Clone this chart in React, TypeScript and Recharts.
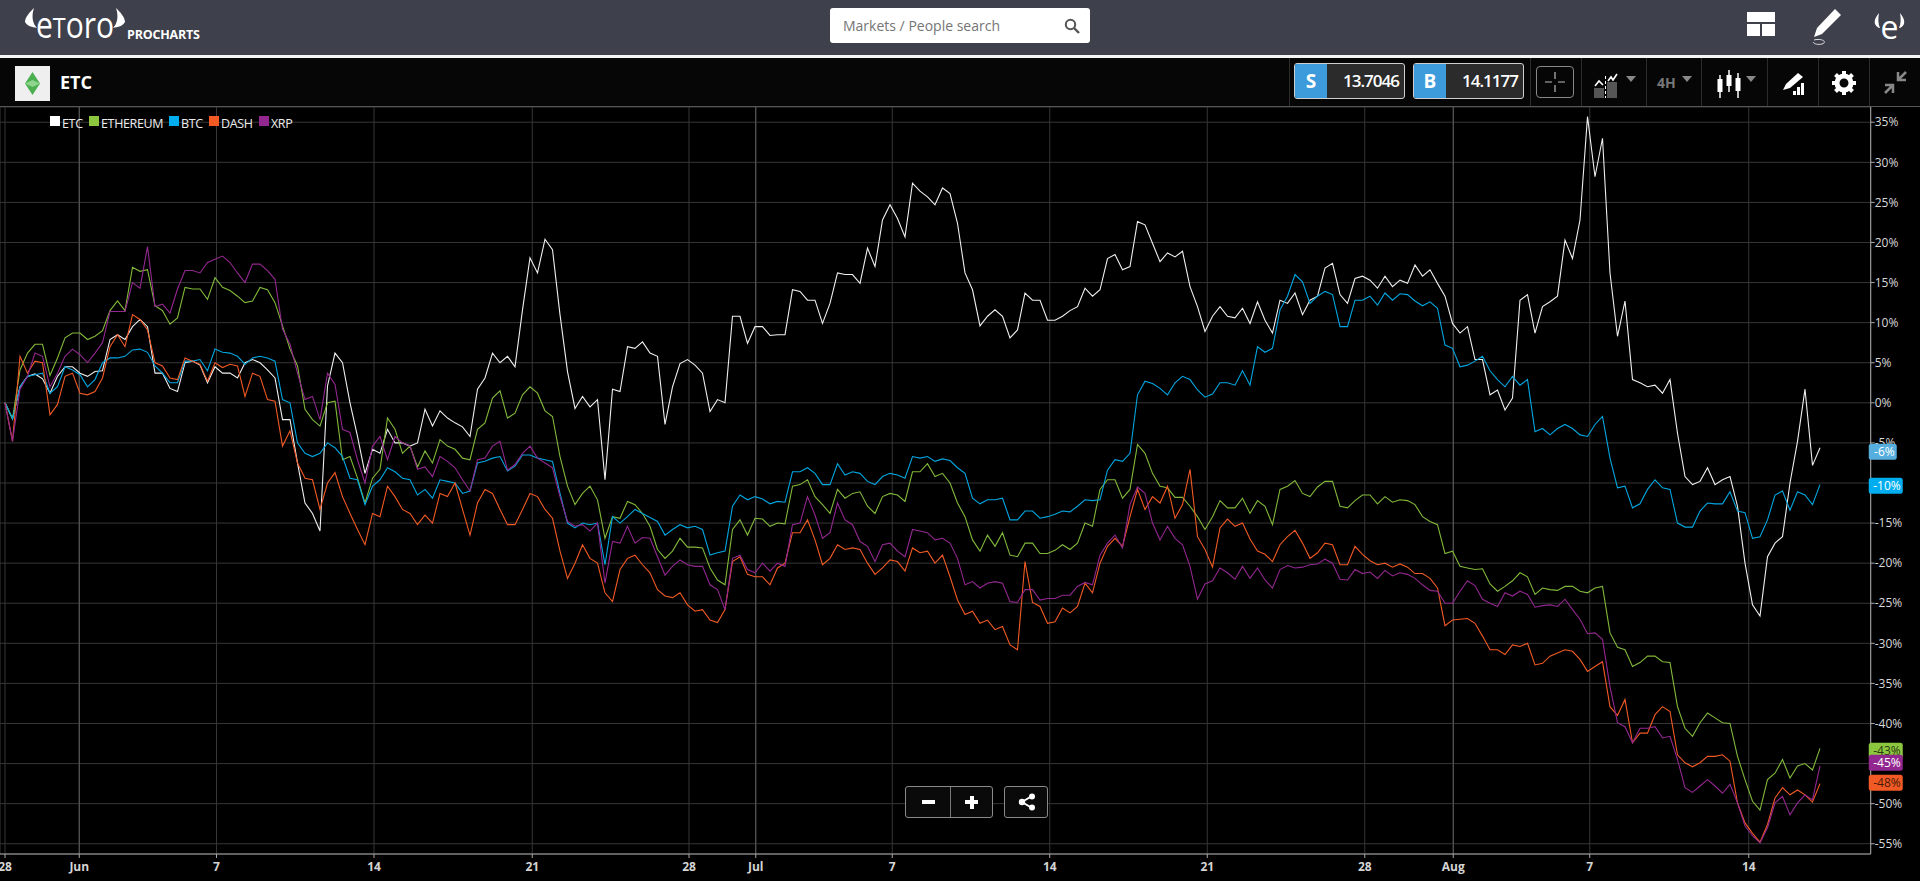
import React from "react";
import { LineChart, Line, XAxis, YAxis, CartesianGrid, ReferenceLine, ReferenceDot } from "recharts";

const etc = [
  0,-2,2,3.3,3.6,3,1.2,3.3,4.5,4.5,
  3.7,3.3,3.9,4,7.9,8.5,7.9,9.5,10.4,9.5,
  3.7,3.7,1.8,1.4,5,5.2,4.7,2.5,4.5,3.7,
  3.7,3.1,5,5.4,5,4.1,3.1,-2.1,-2.1,-7.5,
  -12.5,-13.8,-16,2.1,6.2,5,0,-4.2,-8.8,-5.8,
  -6.3,-3.3,-5,-5,-5.4,-5,-0.8,-2.9,-1,-1.9,
  -2.5,-3,-4.2,1.7,3.1,6.2,5,5.8,4.5,11.6,
  18.1,16.2,20.4,19.1,11,3.9,-0.7,0.8,-0.5,0.4,
  -9.6,1.7,1.4,7,6.8,7.6,6.2,5.8,-2.7,2,
  4.9,5.4,4.7,3.7,-1.1,0.4,0,10.8,10.8,7.4,
  9.5,9.5,8.4,8.5,8.5,14.1,13.9,12.8,12.8,9.9,
  12.4,16.2,16,16,14.9,19.3,17,22.8,24.7,23,
  20.7,27.4,26.4,25.7,24.7,26.8,26.1,22.4,16.2,14.1,
  9.6,10.8,11.6,10.8,8.1,9.1,13.7,12.8,12.8,10.3,
  10.3,10.8,11.5,12,14.3,13.3,14.1,18,18.5,16.6,
  17,22.6,22.2,19.9,17.6,18.7,18.2,18.9,14.5,12,
  8.9,10.8,12,10.8,10.6,11.8,9.9,12.6,10.3,8.7,
  12.8,12.4,13.7,11,12.8,13.3,16.8,17.4,13.5,12.4,
  15.5,15.8,15.3,14.3,15.8,14.5,15.3,14.9,17.2,15.8,
  16.6,14.9,13.3,9.9,8.7,9.5,5.4,5.4,1,1.6,
  -0.9,0.6,12.8,13.5,8.7,12,12.6,13.3,20.3,18,
  22.8,35.7,28.2,33,16.2,8.3,12.7,2.9,2.5,2,
  2.2,1.2,2.9,-3.8,-9.2,-10.2,-9.8,-8.1,-10.2,-9.6,
  -9.2,-12.9,-20,-25.2,-26.6,-19.2,-17.5,-16.7,-10,-4.8,
  1.7,-7.8,-5.6,
];

const ethereum = [
  0,-2,4.1,6.2,7.3,7.3,3.4,5.6,8.1,8.7,
  8.7,7.9,8.3,9,11.5,12.7,11.5,16.9,16.4,16.6,
  12.1,11.5,9.8,10.6,14.4,14.2,14.2,12.9,15.6,14.4,
  14,13.3,12.5,12.7,14.4,14.1,12.5,9.6,6.7,4.6,
  -0.8,-2.1,-2.9,0,0.2,-7.1,-6.7,-9.4,-12.5,-9.4,
  -8.3,-1.9,-3.3,-6.3,-5.4,-8,-6,-7.5,-4.6,-5.4,
  -5.8,-6.9,-7.1,-3.3,-2.5,0.6,1.5,-1.9,-1.3,1,
  2,1.2,-1,-1.7,-6.7,-10.4,-12.7,-11.3,-10.4,-12.1,
  -16.9,-14.2,-14.4,-12.3,-12.7,-13.8,-15.4,-18.3,-19.4,-18.5,
  -16.9,-18,-18,-18.1,-20.6,-22.1,-22.7,-15.8,-14.6,-16.5,
  -14.4,-14.5,-15.4,-15,-15.1,-10.4,-10.2,-9.6,-11.7,-12.7,
  -13.8,-10.8,-11.9,-11.3,-11.1,-12.9,-13.8,-11.7,-11.3,-11.5,
  -12.3,-8.6,-8.6,-7.6,-9.2,-8.8,-10,-12.5,-14.2,-17.1,
  -18.5,-16.5,-17.9,-16.2,-19,-19.2,-17.5,-17.5,-18.8,-18.8,
  -18.4,-17.7,-18.3,-17.5,-15,-15.4,-10.8,-9.6,-9.6,-11.9,
  -10.8,-5.2,-6.3,-8.8,-10.4,-10.6,-11.8,-11.8,-12.9,-14.2,
  -15.8,-14.2,-12.2,-13.1,-13.1,-11.9,-13.8,-12.2,-12.9,-15.2,
  -10.8,-10.4,-9.7,-11.3,-11.7,-10.5,-9.8,-9.8,-12.9,-13.1,
  -12.2,-11.5,-11.5,-12.6,-11.7,-12.4,-12.1,-12.2,-12.7,-14.2,
  -14.8,-15.2,-18.8,-18.5,-20.4,-20.6,-20.8,-20.7,-22.6,-23.5,
  -22.9,-22.2,-21.2,-21.7,-23.9,-23.1,-23.3,-23.4,-22.9,-22.9,
  -23.5,-23.7,-23.1,-22.9,-28.7,-30.5,-30.8,-32.9,-32.4,-31.6,
  -31.6,-32.3,-32.4,-37.9,-40.6,-41.6,-39.9,-38.7,-39.3,-39.9,
  -40,-44.1,-47,-49.7,-50.8,-47,-46.2,-44.5,-46.8,-45.3,
  -45,-45.8,-43.1,
];

const btc = [
  0,-2,2,3.3,3.5,3.7,1.2,2,4.5,4.1,
  3.5,2,2.9,5,5.6,5.6,5.8,6.6,6.7,6.3,
  4.6,3.7,2.5,2.5,5.2,5.2,5.4,4,6.7,6.3,
  6.2,5.8,4.8,5.6,5.8,5.6,5.2,0.4,0,-5,
  -6.3,-6.7,-6.3,-5,-5.6,-6.7,-9.4,-9.6,-12.7,-10.4,
  -9.6,-8.1,-8.6,-9.4,-9.6,-11.5,-10.8,-11.9,-9.6,-9.8,
  -10,-11.3,-11,-7.5,-7.3,-6.9,-6.7,-8.5,-7.9,-6.5,
  -6.5,-6.9,-7.1,-7.3,-11.3,-15,-15.6,-15,-15.2,-15,
  -20.2,-14.2,-15,-14.2,-13.3,-13.8,-14.3,-14.8,-16.5,-15.8,
  -15.2,-15.6,-15.4,-15.8,-19,-18.7,-18.5,-12.9,-11.5,-12.1,
  -11.7,-12,-12.6,-12.3,-12.4,-8.6,-8.6,-8.1,-8.8,-10.2,
  -10.2,-7.6,-9,-8.6,-8.8,-9.8,-10.2,-9.2,-8.8,-9,
  -9.4,-6.7,-6.9,-6.7,-7.3,-7,-7.2,-8.1,-8.8,-11.9,
  -12.6,-12.1,-12.1,-11.9,-14.6,-14.6,-13.5,-13.5,-14.4,-14.2,
  -13.9,-13.5,-13.6,-12.9,-12.1,-12.2,-12.1,-8.4,-7.1,-7.3,
  -6.3,1,2.7,2.4,1.8,1,2.5,3.3,2.9,1.6,
  0.7,1.1,2.5,2.5,2.2,4,2.2,7,6.3,6.8,
  11.6,13.3,16,15.1,12.4,13.3,13.9,13.5,9.5,9.5,
  12.8,12.8,13.3,12.2,13.7,12.8,13.6,13.5,12.7,12.1,
  12.6,11.8,7.2,6.8,4.5,4.7,5.2,5.8,4,2.9,
  2,3.3,2.2,2.9,-3.6,-3.2,-4,-3.2,-2.7,-3.2,
  -4,-4.2,-2.7,-1.7,-6.9,-10.6,-10.4,-13.1,-12.6,-10.8,
  -9.6,-10.6,-10.8,-15,-15.5,-15.5,-13.5,-12.5,-12.6,-12.6,
  -11.1,-13.5,-13.7,-16.9,-16.7,-14.6,-11.5,-11,-13.4,-11.1,
  -11.5,-12.7,-10.2,
];

const dash = [
  0,-4.8,5.8,3.7,5.2,5,-1.5,-0.2,3.3,3.7,
  1.2,1,1.4,3.1,7,8.5,7,11,10.4,9.1,
  5,4.6,3.1,2.9,5.6,5.2,4.8,2.7,5,4.4,
  4.8,4.6,0.8,3.7,3.3,0.4,0.2,-5.4,-3.5,-7.5,
  -9.4,-9.6,-13.3,-10,-8.7,-11.7,-13.8,-15.8,-17.7,-13.8,
  -14.2,-10.4,-11.7,-13.3,-13.8,-15.2,-14,-15,-11.3,-11.7,
  -10,-13.3,-16.5,-12.5,-10.8,-11.3,-13.3,-15.2,-15.2,-13.3,
  -11.3,-11.7,-13.3,-14.4,-18.5,-21.9,-20,-17.7,-19.4,-20,
  -23.7,-24.8,-20.8,-19.4,-19,-20.2,-21.2,-23.3,-24.1,-24.3,
  -23.7,-25.2,-26,-25.8,-27.1,-27.4,-25.8,-19.8,-19.2,-21.4,
  -21.7,-21.7,-22.7,-20.6,-20,-16.2,-16.2,-14.6,-17.1,-20.2,
  -19.4,-17.7,-18.3,-18.1,-18.3,-20,-21.4,-20.6,-19.6,-19.8,
  -21,-18.1,-18.7,-18.5,-20,-19,-21.7,-24.6,-26.4,-26,
  -27.5,-27.1,-28.3,-27.9,-30.2,-30.8,-19.8,-24.9,-25.4,-27.5,
  -27.3,-25.6,-26.2,-25.4,-22.5,-23.7,-20,-17.9,-16.9,-17.9,
  -14.2,-10.8,-13.3,-11.7,-12.5,-10.4,-14.4,-12.7,-8.3,-16.7,
  -18.3,-20.5,-15.6,-14.5,-15.4,-15,-17,-18.5,-18.9,-19.8,
  -17.7,-16.7,-15.9,-17.5,-19.4,-18.7,-17.5,-17.7,-20.2,-20.2,
  -17.9,-18.9,-19.7,-20.2,-20,-20.5,-20.1,-20.5,-21.3,-21.3,
  -21.9,-23.1,-27.8,-27.1,-27,-26.9,-27.5,-29.1,-30.8,-30.8,
  -31.4,-30.2,-30.4,-30,-32.7,-32.5,-31.6,-31.2,-30.8,-31,
  -32,-33.5,-32.9,-32.3,-37.9,-39,-37,-42.4,-41.2,-41.2,
  -38.9,-37.9,-38.5,-43.9,-44.9,-45.4,-44.9,-44.1,-44.1,-43.9,
  -44.7,-49.9,-52.4,-53.7,-54.8,-52.6,-49.3,-48,-48.9,-48.3,
  -48.9,-49.8,-47.5,
];

const xrp = [
  0,-4.8,1.7,3.3,6.2,5.8,2,3.7,5.8,6.7,
  6,5,6.2,7.5,11.4,11.4,11.4,15,14.3,19.5,
  12,12.3,11.2,14.2,16.5,16.5,16.2,17.5,17.9,18.3,
  17.5,16.2,15,17.3,17.3,16.5,15.4,9.2,7.3,3.7,
  0.4,0.8,-2.1,3.7,2.3,-3.3,-3.7,-7.1,-10,-5.4,
  -4.2,-7.1,-4.2,-5,-5.4,-8.3,-8,-9.2,-6.7,-7.3,
  -8.1,-9.6,-11,-7.1,-6.9,-5.4,-4.8,-8.4,-7.7,-6.3,
  -5.4,-6.9,-7.5,-8.1,-11.7,-14.8,-15.4,-15.2,-16,-15,
  -22.5,-17.3,-17.5,-15.4,-17.5,-16.8,-16.9,-19.2,-21.5,-20.4,
  -19.6,-20.2,-20.4,-20.4,-22.7,-23.3,-25.8,-19.4,-19,-20.8,
  -21.2,-20,-21,-20,-20.4,-15.2,-15,-11.7,-14,-16.9,
  -16.2,-12.5,-14.6,-15.2,-17.3,-17.9,-19.8,-17.7,-17.5,-18.5,
  -19.2,-15.8,-16,-16.2,-17.1,-16.9,-17.5,-19.4,-22.7,-22.3,
  -23.1,-22.5,-22.3,-22.5,-24.8,-24.9,-23.3,-23.3,-24.6,-24.4,
  -24.4,-24,-24,-22.9,-22.4,-22.7,-19,-17.5,-16.5,-18.1,
  -12.7,-10.5,-11.3,-15,-17.1,-15.4,-16.9,-17.7,-20.4,-24.5,
  -22.6,-22.2,-20.6,-21.2,-22,-20.4,-21.9,-20.6,-22.1,-23.1,
  -20.8,-20.3,-20.6,-20.5,-20.2,-20.1,-19.5,-20,-22,-22.1,
  -20.8,-21.3,-21.1,-21.9,-20.9,-21.6,-21.2,-21.4,-21.9,-22.7,
  -23.4,-23.5,-25,-25,-23.5,-22.2,-22.8,-24.5,-25,-25.4,
  -23.7,-24.1,-23.5,-23.9,-25.5,-25.3,-25.2,-25.4,-24.5,-25.8,
  -27,-28.8,-28.7,-29.5,-35.4,-39.9,-40.4,-42.4,-40.6,-40.6,
  -40.4,-41.8,-41.6,-44.5,-48,-48.6,-47.8,-47,-47.8,-48.7,
  -47.6,-49.9,-52.8,-54,-54.9,-53,-49.9,-49.1,-51.4,-49.9,
  -48.9,-49.5,-45.3,
];

const dateLabels = ["28", "Jun", "7", "14", "21", "28", "Jul", "7", "14", "21", "28", "Aug", "7", "14"];
const dateSteps = [0, 9.9, 28.2, 49.2, 70.3, 91.2, 100.1, 118.3, 139.3, 160.3, 181.3, 193.1, 211.3, 232.5];
const monthSteps = [9.9, 100.1, 193.1];
const percentTicks = [35, 30, 25, 20, 15, 10, 5, 0, -5, -10, -15, -20, -25, -30, -35, -40, -45, -50, -55];

const seriesNames = ["ETC", "ETHEREUM", "BTC", "DASH", "XRP"];
const seriesKeys = ["etc", "ethereum", "btc", "dash", "xrp"];
const seriesValues = [etc, ethereum, btc, dash, xrp];
const seriesColors = ["#efefef", "#82b83a", "#00a6e0", "#f15a24", "#92278f"];
const legendColors = ["#ffffff", "#8cc63f", "#00aeef", "#f15a24", "#92278f"];
const legendSwatchX = [50, 89, 169, 209, 259];

const badgeLabels = ["-6%", "-10%", "-43%", "-45%", "-48%"];
const badgeValues = [-6.1, -10.35, -43.4, -44.9, -47.4];
const badgeColors = ["#55aedd", "#00aeef", "#8cc63f", "#92278f", "#f15a24"];
const badgeText = ["#ffffff", "#ffffff", "#2a3a10", "#ffffff", "#4a1a08"];
const badgeWidth = [28, 34, 34, 34, 34];

const stepDomain = [-0.667, 248.76];
const percentDomain = [-56.28, 36.9];

const rows = etc.map((_, i) => {
  const row: Record<string, number> = { step: i };
  seriesKeys.forEach((k, s) => { row[k] = seriesValues[s][i]; });
  return row;
});

const FONT = "'Open Sans', sans-serif";

const abs = (left: number, top: number, width: number, height: number, extra: React.CSSProperties = {}): React.CSSProperties => ({
  position: "absolute", left, top, width, height, boxSizing: "border-box", ...extra,
});

function Caret({ x, color = "#888" }: { x: number; color?: string }) {
  return <svg style={abs(x, 76, 10, 7)} viewBox="0 0 10 7"><path d="M0 0H10L5 6Z" fill={color} /></svg>;
}

function Quote({ x, side, value }: { x: number; side: string; value: string }) {
  return (
    <div style={abs(x, 63, 111, 36, { background: "#2b2b2b", border: "1px solid #cfcfcf", borderRadius: 3, overflow: "hidden" })}>
      <div style={abs(0, 0, 32, 34, { background: "#3d9bdc", color: "#fff", fontWeight: 700, fontSize: 19, lineHeight: "34px", textAlign: "center" })}>{side}</div>
      <div style={abs(32, 0, 72, 34, { color: "#fff", fontSize: 17, fontWeight: 600, letterSpacing: -1, lineHeight: "34px", textAlign: "right" })}>{value}</div>
    </div>
  );
}

function Badge(props: any) {
  const { cx, cy, index } = props;
  const w = badgeWidth[index];
  return (
    <g>
      <rect x={cx} y={cy - 8} width={w} height={16} rx={2.5} fill={badgeColors[index]} />
      <text x={cx + w - 2} y={cy + 4} textAnchor="end" fontSize={12} fontFamily={FONT} fill={badgeText[index]}>{badgeLabels[index]}</text>
    </g>
  );
}

export default function App() {
  return (
    <div style={abs(0, 0, 1920, 881, { background: "#000", overflow: "hidden", fontFamily: FONT })}>
      <div style={abs(0, 0, 1920, 881)}>
        <LineChart width={1920} height={881} data={rows} margin={{ top: 107, left: 0, right: 0, bottom: 0 }}>
          <CartesianGrid stroke="#363636" strokeWidth={1} />
          {monthSteps.map((m) => <ReferenceLine key={m} x={m} stroke="#5c5c5c" strokeWidth={1} />)}
          <XAxis
            dataKey="step" type="number" domain={stepDomain} allowDataOverflow
            ticks={dateSteps} interval={0} height={27}
            tickFormatter={(v: number) => dateLabels[dateSteps.indexOf(v)]}
            tick={{ fill: "#d4d4d4", fontSize: 12, fontWeight: 700, fontFamily: FONT }}
            tickSize={4} tickMargin={4}
            axisLine={{ stroke: "#a8a8a8" }} tickLine={{ stroke: "#a8a8a8" }}
          />
          <YAxis
            orientation="right" type="number" domain={percentDomain} allowDataOverflow
            ticks={percentTicks} interval={0} width={49.3}
            tickFormatter={(v: number) => `${v}%`}
            tick={{ fill: "#d8d8d8", fontSize: 12, fontFamily: FONT, textAnchor: "start" }}
            tickSize={4} tickMargin={0}
            axisLine={{ stroke: "#a8a8a8" }} tickLine={{ stroke: "#a8a8a8" }}
          />
          {seriesKeys.map((k, i) => (
            <Line key={k} dataKey={k} name={seriesNames[i]} stroke={seriesColors[i]} strokeWidth={1.1}
              dot={false} activeDot={false} isAnimationActive={false} />
          ))}
        </LineChart>
      </div>

      {/* last-value badges sit on top of the axis labels, on the same scales */}
      <div style={abs(0, 0, 1920, 881)}>
        <LineChart width={1920} height={881} data={rows} margin={{ top: 107, left: 0, right: 49.3, bottom: 27 }}>
          <XAxis hide dataKey="step" type="number" domain={stepDomain} allowDataOverflow />
          <YAxis hide type="number" domain={percentDomain} allowDataOverflow />
          {badgeValues.map((v, i) => (
            <ReferenceDot key={badgeLabels[i]} x={248.5} y={v} ifOverflow="visible"
              shape={(p: any) => <Badge {...p} index={i} />} />
          ))}
        </LineChart>
      </div>

      {/* legend */}
      <div style={abs(0, 107, 400, 30)}>
        {seriesNames.map((n, i) => (
          <React.Fragment key={n}>
            <div style={abs(legendSwatchX[i], 9, 10, 10, { background: legendColors[i] })} />
            <div style={{ position: "absolute", left: legendSwatchX[i] + 12, top: 8, color: "#ececec", fontSize: 12.5, lineHeight: "17px", letterSpacing: -0.35, whiteSpace: "nowrap" }}>{n}</div>
          </React.Fragment>
        ))}
      </div>

      {/* zoom buttons */}
      <div style={abs(905, 786, 88, 32, { background: "#0a0a0a", border: "1px solid #8a8a8a", borderRadius: 3 })}>
        <div style={abs(44, 0, 1, 30, { background: "#777" })} />
        <div style={abs(16, 13, 13, 4, { background: "#fff" })} />
        <div style={abs(59, 13, 13, 4, { background: "#fff" })} />
        <div style={abs(63.5, 8.5, 4, 13, { background: "#fff" })} />
      </div>
      <div style={abs(1004, 786, 44, 32, { background: "#0a0a0a", border: "1px solid #8a8a8a", borderRadius: 3 })}>
        <svg style={abs(13, 6, 18, 18)} viewBox="0 0 18 18">
          <path d="M14 3 L4 9 L14 15" stroke="#fff" strokeWidth={2} fill="none" />
          <circle cx={14} cy={3.4} r={3} fill="#fff" /><circle cx={4} cy={9} r={3.2} fill="#fff" /><circle cx={14} cy={14.6} r={3} fill="#fff" />
        </svg>
      </div>

      {/* top bar */}
      <div style={abs(0, 0, 1920, 55, { background: "#3e404b" })} />
      <div style={abs(0, 55, 1920, 2.5, { background: "#f4f4f4" })} />
      <svg style={abs(0, 0, 200, 54)} viewBox="0 0 200 54">
        <path d="M34 8 C30 12 25 17 25 22 C27 26 32 27 37 28 C33 24 31 17 34 8Z" fill="#fff" />
        <path d="M116 8 C120 12 125 17 125 22 C123 26 118 27 113 28 C117 24 119 17 116 8Z" fill="#fff" />
        <text x={36} y={38} fontSize={36} fill="#fff" fontFamily={FONT} textLength={78} lengthAdjust="spacingAndGlyphs">
          e<tspan fontSize={28}>T</tspan>oro
        </text>
      </svg>
      <div style={{ position: "absolute", left: 127, top: 27, color: "#fff", fontSize: 12.5, lineHeight: "16px", fontWeight: 700, letterSpacing: -0.2 }}>PROCHARTS</div>

      <div style={abs(830, 8, 260, 35, { background: "#fff", borderRadius: 3, color: "#757575", fontSize: 14, lineHeight: "35px", paddingLeft: 13 })}>Markets / People search</div>
      <svg style={abs(1064, 18, 16, 16)} viewBox="0 0 16 16">
        <circle cx={6.5} cy={6.5} r={4.7} stroke="#555" strokeWidth={2} fill="none" />
        <path d="M10 10 L15 15" stroke="#555" strokeWidth={2.4} />
      </svg>

      <div style={abs(1747, 12, 28, 24, { background: "#fff" })}>
        <div style={abs(0, 10, 28, 2, { background: "#3e404b" })} />
        <div style={abs(13, 11, 2, 13, { background: "#3e404b" })} />
      </div>
      <svg style={abs(1808, 6, 36, 40)} viewBox="0 0 36 40">
        <path d="M27 3 L33 9 L14 28 L6 31 L9 22Z" fill="#fff" />
        <path d="M6 34 C14 32 20 36 14 38 C10 39 6 38 5 36" stroke="#ddd" strokeWidth={1} fill="none" />
      </svg>
      <svg style={abs(1870, 8, 40, 36)} viewBox="0 0 40 36">
        <path d="M9 5 C6 9 4 12 5 16 C6 18 8 20 10 20 C8 16 8 10 9 5Z" fill="#fff" />
        <path d="M30 5 C33 9 35 12 34 16 C33 18 31 20 29 20 C31 16 31 10 30 5Z" fill="#fff" />
        <text x={19.5} y={31} textAnchor="middle" fontSize={32} fill="#fff" fontFamily={FONT}>e</text>
      </svg>

      {/* toolbar */}
      <div style={abs(0, 58, 1920, 48.5, { background: "#060606", borderBottom: "1px solid #555" })} />
      <div style={abs(15, 66, 35, 35, { background: "#efefef" })}>
        <svg style={abs(10, 6, 15, 23)} viewBox="0 0 17 26">
          <path d="M8.5 0 L17 13 L8.5 26 L0 13Z" fill="#4caf50" />
          <path d="M0 13 L8.5 9 L17 13 L8.5 17Z" fill="#8fd48f" />
        </svg>
      </div>
      <div style={{ position: "absolute", left: 60, top: 69, color: "#fff", fontSize: 18, fontWeight: 700, lineHeight: "26px" }}>ETC</div>
      {[1289, 1529.5, 1580.5, 1645.5, 1701, 1767, 1818, 1869].map((x) => (
        <div key={x} style={abs(x, 58, 1, 48, { background: "#2c2c2c" })} />
      ))}
      <Quote x={1294} side="S" value="13.7046" />
      <Quote x={1413} side="B" value="14.1177" />
      <div style={abs(1536, 66, 38, 32, { border: "1px solid #888", borderRadius: 4 })}>
        <svg style={abs(7, 4, 22, 22)} viewBox="0 0 22 22">
          <path d="M11 1V8M11 14V21M1 11H8M14 11H21" stroke="#bbb" strokeWidth={1.2} />
        </svg>
      </div>
      <svg style={abs(1594, 72, 24, 26)} viewBox="0 0 24 26">
        <path d="M0 26V16H10V26Z M13 26V10H23V26Z" fill="#555" />
        <path d="M1 14 L5 9 L9 13 M14 9 L17 5 L19 8 L23 2" stroke="#fff" strokeWidth={1.6} fill="none" />
        <path d="M11.5 4V26" stroke="#fff" strokeWidth={1} strokeDasharray="3 2" />
      </svg>
      <Caret x={1626} />
      <div style={{ position: "absolute", left: 1657, top: 72, color: "#777", fontSize: 14, fontWeight: 700, lineHeight: "22px" }}>4H</div>
      <Caret x={1682} />
      <svg style={abs(1716, 70, 26, 28)} viewBox="0 0 26 28">
        {[4, 13, 22].map((x, i) => (
          <g key={x}>
            <path d={`M${x} ${[5, 0, 3][i]}V${[28, 22, 28][i]}`} stroke="#fff" strokeWidth={1.5} />
            <rect x={x - 2.5} y={[9, 5, 8][i]} width={5} height={[13, 11, 13][i]} fill="#fff" />
          </g>
        ))}
      </svg>
      <Caret x={1746} />
      <svg style={abs(1782, 73, 22, 22)} viewBox="0 0 22 22">
        <path d="M16 0 L21 4 L8 15 L1 17 L4 11Z" fill="#fff" />
        <path d="M11 22V18H14V22ZM15 22V14H18V22ZM19 22V10H22V22Z" fill="#fff" />
      </svg>
      <svg style={abs(1832, 71, 24, 24)} viewBox="0 0 24 24">
        <circle cx={12} cy={12} r={7} stroke="#fff" strokeWidth={5} fill="none" />
        <path d="M12 0V5M12 19V24M0 12H5M19 12H24M3.5 3.5L7 7M17 17L20.5 20.5M3.5 20.5L7 17M17 7L20.5 3.5" stroke="#fff" strokeWidth={4} />
      </svg>
      <svg style={abs(1884, 71, 23, 23)} viewBox="0 0 23 23">
        <path d="M22 1 L15 8M14 1V9H22" stroke="#888" strokeWidth={2.5} fill="none" />
        <path d="M1 22 L8 15M9 22V14H1" stroke="#888" strokeWidth={2.5} fill="none" />
      </svg>
    </div>
  );
}
